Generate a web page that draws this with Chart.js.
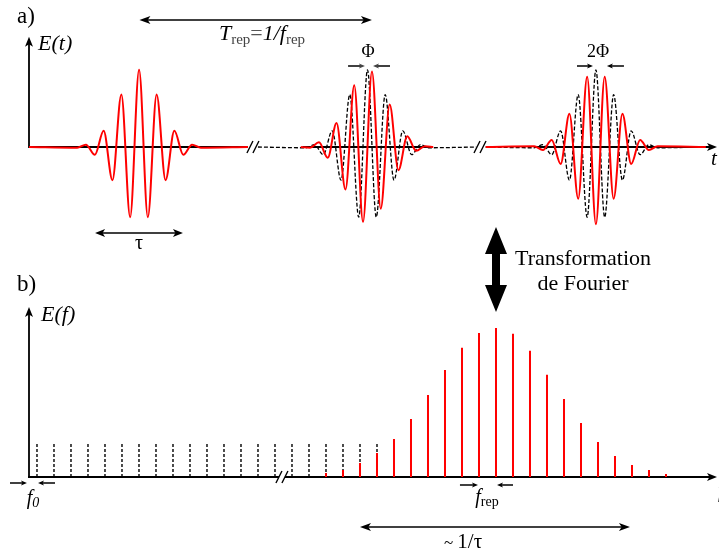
<!DOCTYPE html>
<html>
<head>
<meta charset="utf-8">
<script src="https://cdn.jsdelivr.net/npm/chart.js@4.4.1/dist/chart.umd.min.js"></script>
<style>
  html, body { margin: 0; padding: 0; background: #fff; }
  #wrap { position: relative; width: 719px; height: 550px; }
  #wrap canvas { position: absolute; left: 0; top: 0; }
</style>
</head>
<body>
<div id="wrap">
  <canvas id="timeChart" width="719" height="550"></canvas>
  <canvas id="freqChart" width="719" height="550"></canvas>
</div>
<script>
const serif = '"Liberation Serif", "Times New Roman", serif';

// a) time domain: extrema of each trace (t in carrier periods, E normalised to the pulse peak)
// first pulse (red)
const pulse1T = [0, 2.80, 3.31, 3.83, 4.34, 4.85, 5.37, 5.88, 6.40, 6.91, 7.42, 7.94, 8.45, 8.97, 9.48, 9.99, 12.73];
const pulse1E = [0, -0.01, 0.03, -0.10, 0.21, -0.43, 0.68, -0.91, 1.00, -0.91, 0.68, -0.43, 0.21, -0.10, 0.03, -0.01, 0];

// pulses 2 and 3 without phase slip (dashed black), null = axis break
const refT = [13.31, 16.09, 16.60, 17.11, 17.63, 18.14, 18.65, 19.17, 19.68, 20.19, 20.71, 21.22, 21.73, 22.25, 22.76, 23.27, 26.0,
  26.3,
  26.55, 29.37, 29.88, 30.39, 30.91, 31.42, 31.93, 32.45, 32.96, 33.47, 33.99, 34.50, 35.01, 35.53, 36.04, 36.55, 39.35];
const refE = [0, -0.01, 0.03, -0.10, 0.21, -0.43, 0.68, -0.91, 1.00, -0.91, 0.68, -0.43, 0.21, -0.10, 0.03, -0.01, 0,
  null,
  0, -0.01, 0.03, -0.10, 0.21, -0.43, 0.68, -0.91, 1.00, -0.91, 0.68, -0.43, 0.21, -0.10, 0.03, -0.01, 0];

// pulses 2 and 3 with carrier-envelope phase slip Phi, 2Phi (red)
const slipT = [15.8, 16.34, 16.86, 17.37, 17.88, 18.40, 18.91, 19.42, 19.94, 20.45, 20.97, 21.48, 21.99, 22.51, 23.02, 23.5,
  26.3,
  26.55, 29.37, 29.88, 30.39, 30.91, 31.42, 31.93, 32.45, 32.96, 33.47, 33.99, 34.50, 35.01, 35.53, 36.04, 36.55, 39.35];
const slipE = [0, -0.01, 0.06, -0.14, 0.31, -0.55, 0.80, -0.97, 0.98, -0.80, 0.55, -0.30, 0.14, -0.05, 0.01, 0,
  null,
  0, 0.01, -0.04, 0.09, -0.22, 0.43, -0.67, 0.91, -1.00, 0.91, -0.67, 0.43, -0.22, 0.09, -0.04, 0.01, 0];

// b) frequency comb, line n sits at f = f0 + n*frep (frep = 1)
const f0 = 0.47;
const combN = [0, 1, 2, 3, 4, 5, 6, 7, 8, 9, 10, 11, 12, 13, 14, 15, 16, 17, 18, 19, 20];
const combE = [0.23, 0.23, 0.23, 0.23, 0.23, 0.23, 0.23, 0.23, 0.23, 0.23, 0.23, 0.23, 0.23, 0.23, 0.23, 0.23, 0.23, 0.23, 0.23, 0.23, 0.23];
const lineN = [17, 18, 19, 20, 21, 22, 23, 24, 25, 26, 27, 28, 29, 30, 31, 32, 33, 34, 35, 36, 37];
const lineE = [0.027, 0.047, 0.094, 0.161, 0.255, 0.389, 0.550, 0.718, 0.866, 0.966, 1.0, 0.960, 0.846, 0.685, 0.523, 0.362, 0.235, 0.141, 0.081, 0.047, 0.020];

// axis pieces (data units)
const timeAxisRuns = [[0, 12.73], [15.9, 23.4], [29.4, 40]];
const timeBreaks = [13.02, 26.22];
const freqBreak = 14.88;

function toPoints(xs, ys) {
  return xs.map((x, i) => ({ x, y: ys[i] }));
}

function sticks(ns, es) {
  const pts = [];
  ns.forEach((n, i) => {
    const f = f0 + n;
    pts.push({ x: f, y: 0 }, { x: f, y: es[i] }, { x: f, y: null });
  });
  return pts;
}

function drawRich(ctx, parts, x, y, align) {
  let w = 0;
  parts.forEach((p) => {
    ctx.font = p.font;
    p.w = ctx.measureText(p.text).width;
    w += p.w;
  });
  let cx = align === 'center' ? x - w / 2 : x;
  ctx.textAlign = 'left';
  ctx.textBaseline = 'alphabetic';
  parts.forEach((p) => {
    ctx.font = p.font;
    ctx.fillStyle = p.color || '#000';
    ctx.fillText(p.text, cx, y + (p.dy || 0));
    cx += p.w;
  });
}

function head(ctx, x, y, dx, dy, len, half) {
  // dx,dy: unit direction the head points to
  const px = -dy, py = dx;
  ctx.beginPath();
  ctx.moveTo(x, y);
  ctx.lineTo(x - dx * len + px * half, y - dy * len + py * half);
  ctx.lineTo(x - dx * len * 0.75, y - dy * len * 0.75);
  ctx.lineTo(x - dx * len - px * half, y - dy * len - py * half);
  ctx.closePath();
  ctx.fill();
}

function hArrow(ctx, x1, x2, y, both, len, half, lw) {
  const dir = x2 > x1 ? 1 : -1;
  ctx.lineWidth = lw;
  ctx.beginPath();
  ctx.moveTo(both ? x1 + dir * len * 0.6 : x1, y);
  ctx.lineTo(x2 - dir * len * 0.6, y);
  ctx.stroke();
  head(ctx, x2, y, dir, 0, len, half);
  if (both) head(ctx, x1, y, -dir, 0, len, half);
}

function breakMark(ctx, xc, yc) {
  ctx.fillStyle = '#fff';
  ctx.fillRect(xc - 3, yc - 3, 6, 6);
  ctx.strokeStyle = '#000';
  ctx.lineWidth = 1.4;
  [-3, 3].forEach((o) => {
    ctx.beginPath();
    ctx.moveTo(xc + o - 3, yc + 6);
    ctx.lineTo(xc + o + 3, yc - 6);
    ctx.stroke();
  });
}

const timeDecor = {
  id: 'timeDecor',
  beforeDatasetsDraw(chart) {
    const { ctx, scales: { x, y } } = chart;
    const y0 = y.getPixelForValue(0);
    const x0 = x.getPixelForValue(0);
    ctx.save();
    ctx.strokeStyle = '#000';
    ctx.fillStyle = '#000';
    ctx.lineWidth = 1.8;
    const yTop = y.getPixelForValue(1.43);
    ctx.beginPath();
    ctx.moveTo(x0, y0 + 1);
    ctx.lineTo(x0, yTop + 6);
    ctx.stroke();
    head(ctx, x0, yTop, 0, -1, 10, 4);
    timeAxisRuns.forEach(([a, b], i) => {
      const last = i === timeAxisRuns.length - 1;
      ctx.beginPath();
      ctx.moveTo(x.getPixelForValue(a), y0);
      ctx.lineTo(x.getPixelForValue(b) - (last ? 6 : 0), y0);
      ctx.stroke();
    });
    head(ctx, x.getPixelForValue(40), y0, 1, 0, 10, 4);
    ctx.restore();
  },
  afterDatasetsDraw(chart) {
    const { ctx, scales: { x, y } } = chart;
    const y0 = y.getPixelForValue(0);
    ctx.save();
    timeBreaks.forEach((t) => breakMark(ctx, x.getPixelForValue(t), y0));

    ctx.fillStyle = '#000';
    ctx.strokeStyle = '#000';
    drawRich(ctx, [{ text: 'a)', font: `23px ${serif}` }], 17, 23);
    drawRich(ctx, [{ text: 'E(t)', font: `italic 22px ${serif}` }], 38, 50);
    drawRich(ctx, [{ text: 't', font: `italic 21px ${serif}` }], 711, 165);

    // T_rep
    hArrow(ctx, x.getPixelForValue(6.42), x.getPixelForValue(19.94), 20, true, 11, 4, 1.6);
    drawRich(ctx, [
      { text: 'T', font: `italic 22px ${serif}` },
      { text: 'rep', font: `15px ${serif}`, dy: 4, color: '#444' },
      { text: '=', font: `22px ${serif}`, color: '#555' },
      { text: '1/', font: `italic 22px ${serif}` },
      { text: 'f', font: `italic 22px ${serif}` },
      { text: 'rep', font: `15px ${serif}`, dy: 4, color: '#444' }
    ], 262, 40, 'center');

    // Phi and 2Phi
    hArrow(ctx, x.getPixelForValue(18.55), x.getPixelForValue(19.53), 66, false, 6, 2.5, 1.5);
    hArrow(ctx, x.getPixelForValue(20.99), x.getPixelForValue(20.0), 66, false, 6, 2.5, 1.5);
    drawRich(ctx, [{ text: 'Φ', font: `18px ${serif}` }], 368, 57, 'center');
    hArrow(ctx, x.getPixelForValue(31.86), x.getPixelForValue(32.79), 66, false, 6, 2.5, 1.5);
    hArrow(ctx, x.getPixelForValue(34.59), x.getPixelForValue(33.60), 66, false, 6, 2.5, 1.5);
    drawRich(ctx, [{ text: '2Φ', font: `18px ${serif}` }], 598, 57, 'center');

    // tau
    hArrow(ctx, x.getPixelForValue(3.84), x.getPixelForValue(8.95), 233, true, 10, 4, 1.6);
    drawRich(ctx, [{ text: 'τ', font: `20px ${serif}` }], 139, 249, 'center');

    // Fourier transform arrow
    ctx.beginPath();
    ctx.moveTo(496, 227);
    ctx.lineTo(507, 254);
    ctx.lineTo(500, 254);
    ctx.lineTo(500, 285);
    ctx.lineTo(507, 285);
    ctx.lineTo(496, 312);
    ctx.lineTo(485, 285);
    ctx.lineTo(492, 285);
    ctx.lineTo(492, 254);
    ctx.lineTo(485, 254);
    ctx.closePath();
    ctx.fill();
    drawRich(ctx, [{ text: 'Transformation', font: `22px ${serif}` }], 583, 265, 'center');
    drawRich(ctx, [{ text: 'de Fourier', font: `22px ${serif}` }], 583, 290, 'center');
    ctx.restore();
  }
};

const freqDecor = {
  id: 'freqDecor',
  beforeDatasetsDraw(chart) {
    const { ctx, scales: { x, y } } = chart;
    const y0 = y.getPixelForValue(0);
    const x0 = x.getPixelForValue(0);
    ctx.save();
    ctx.strokeStyle = '#000';
    ctx.fillStyle = '#000';
    ctx.lineWidth = 1.8;
    const yTop = y.getPixelForValue(1.14);
    ctx.beginPath();
    ctx.moveTo(x0, y0 + 1);
    ctx.lineTo(x0, yTop + 6);
    ctx.stroke();
    head(ctx, x0, yTop, 0, -1, 10, 4);
    const xEnd = x.getPixelForValue(40.47);
    ctx.beginPath();
    ctx.moveTo(x0 - 1, y0);
    ctx.lineTo(xEnd - 6, y0);
    ctx.stroke();
    head(ctx, xEnd, y0, 1, 0, 10, 4);
    ctx.restore();
  },
  afterDatasetsDraw(chart) {
    const { ctx, scales: { x, y } } = chart;
    const y0 = y.getPixelForValue(0);
    ctx.save();
    breakMark(ctx, x.getPixelForValue(freqBreak), y0);
    ctx.fillStyle = '#000';
    ctx.strokeStyle = '#000';
    drawRich(ctx, [{ text: 'b)', font: `23px ${serif}` }], 17, 291);
    drawRich(ctx, [{ text: 'E(f)', font: `italic 22px ${serif}` }], 41, 321);
    drawRich(ctx, [{ text: 'f', font: `italic 20px ${serif}` }], 718, 497);

    // f0
    hArrow(ctx, x.getPixelForValue(-1.12), x.getPixelForValue(-0.12), 483, false, 6, 2.5, 1.5);
    hArrow(ctx, x.getPixelForValue(1.53), x.getPixelForValue(0.53), 483, false, 6, 2.5, 1.5);
    drawRich(ctx, [
      { text: 'f', font: `italic 20px ${serif}` },
      { text: '0', font: `italic 14px ${serif}`, dy: 3 }
    ], 33, 504, 'center');

    // frep
    hArrow(ctx, x.getPixelForValue(25.35), x.getPixelForValue(26.41), 485, false, 6, 2.5, 1.5);
    hArrow(ctx, x.getPixelForValue(28.47), x.getPixelForValue(27.53), 485, false, 6, 2.5, 1.5);
    drawRich(ctx, [
      { text: 'f', font: `italic 20px ${serif}` },
      { text: 'rep', font: `14px ${serif}`, dy: 3 }
    ], 487, 503, 'center');

    // spectral width
    hArrow(ctx, x.getPixelForValue(19.47), x.getPixelForValue(35.35), 527, true, 11, 4, 1.6);
    drawRich(ctx, [
      { text: '~ ', font: `17px ${serif}` },
      { text: '1/τ', font: `21px ${serif}` }
    ], 463, 548, 'center');
    ctx.restore();
  }
};

const common = {
  responsive: false,
  animation: false,
  events: [],
  plugins: { legend: { display: false }, tooltip: { enabled: false } }
};

new Chart(document.getElementById('timeChart'), {
  type: 'scatter',
  data: {
    datasets: [
      {
        label: 'pulse 1',
        data: toPoints(pulse1T, pulse1E),
        showLine: true,
        borderColor: '#ff0000',
        borderWidth: 2,
        pointRadius: 0,
        cubicInterpolationMode: 'monotone'
      },
      {
        label: 'phase slip',
        data: toPoints(slipT, slipE),
        showLine: true,
        borderColor: '#ff0000',
        borderWidth: 2,
        pointRadius: 0,
        cubicInterpolationMode: 'monotone'
      },
      {
        label: 'no slip',
        data: toPoints(refT, refE),
        showLine: true,
        borderColor: '#000',
        borderWidth: 1.3,
        borderDash: [4, 2],
        pointRadius: 0,
        cubicInterpolationMode: 'monotone'
      }
    ]
  },
  options: {
    ...common,
    layout: { padding: { left: 29, right: 2, top: 39, bottom: 295 } },
    scales: {
      x: { type: 'linear', min: 0, max: 40, display: false },
      y: { type: 'linear', min: -1.4, max: 1.4, display: false }
    }
  },
  plugins: [timeDecor]
});

new Chart(document.getElementById('freqChart'), {
  type: 'scatter',
  data: {
    datasets: [
      {
        label: 'spectrum',
        data: sticks(lineN, lineE),
        showLine: true,
        borderColor: '#ff0000',
        borderWidth: 2,
        borderCapStyle: 'butt',
        pointRadius: 0
      },
      {
        label: 'comb',
        data: sticks(combN, combE),
        showLine: true,
        borderColor: '#000',
        borderWidth: 1.4,
        borderDash: [3, 2],
        pointRadius: 0
      }
    ]
  },
  options: {
    ...common,
    layout: { padding: { left: 29, right: 2, top: 307, bottom: 73 } },
    scales: {
      x: { type: 'linear', min: 0, max: 40.47, display: false },
      y: { type: 'linear', min: 0, max: 1.14, display: false }
    }
  },
  plugins: [freqDecor]
});
</script>
</body>
</html>
